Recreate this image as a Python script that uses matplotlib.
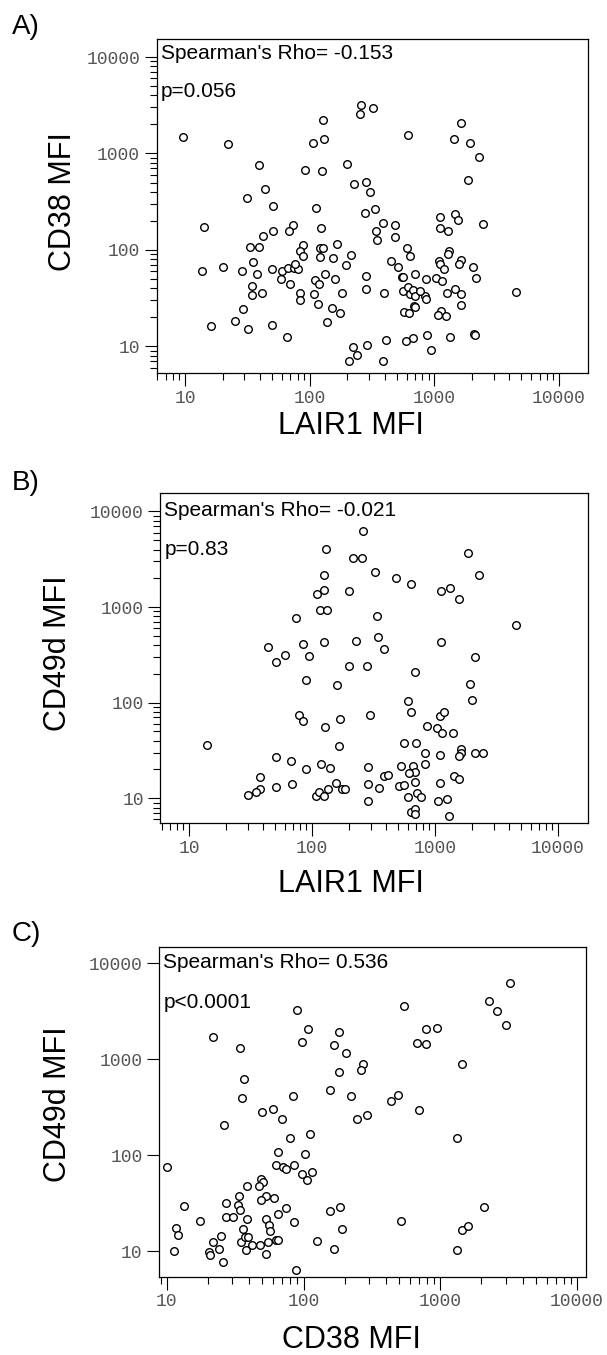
import numpy as np
import matplotlib
matplotlib.use('Agg')
import matplotlib.pyplot as plt
from matplotlib.ticker import LogLocator, FuncFormatter, NullFormatter, NullLocator

W, H = 607, 1355

# panel A: LAIR1 vs CD38
a_lair1 = [9.7, 22, 260, 255, 325, 127, 107, 131, 620, 1650, 1430, 1930, 2290, 1850,
           39, 198, 92, 125, 227, 281, 304, 43.6, 31.5, 50.5, 113, 277, 336, 14.1,
           73, 68, 50.5, 42, 123, 338, 387, 480, 346, 483, 1120, 1120, 1470, 1560,
           1285, 2460, 33, 39, 88, 166, 122, 127, 83, 88, 213, 155, 122, 603, 634,
           1320, 1285, 447, 511, 1090, 1120, 1190, 1650, 1580, 2030, 2160, 1030,
           1146, 1276, 1462, 1626, 1640, 1130, 1066, 1250, 2070, 2140, 1330, 873,
           938, 681, 594, 410, 291, 224, 240, 205, 385, 66, 50, 32, 25, 16.1, 29,
           13.7, 20.3, 28.6, 35, 37.6, 34.7, 34.2, 41.4, 50, 59, 60, 67, 74.5, 80,
           77, 70, 83, 83, 108, 111, 118, 133, 117, 161, 183, 151, 174, 138, 281,
           281, 393, 195, 550, 565, 697, 861, 843, 855, 557, 611, 634, 676, 705,
           768, 574, 630, 691, 700, 4550]
a_cd38 = [1500, 1260, 3150, 2580, 2960, 2220, 1290, 1420, 1560, 2060, 1420, 1290, 925,
          533, 757, 774, 680, 663, 486, 506, 397, 430, 346, 287, 270, 244, 264, 172,
          182, 158, 157, 141, 167, 158, 189, 182, 127, 135, 222, 169, 237, 204, 157,
          185, 107, 107, 112, 114, 106, 106, 98, 86, 89, 82, 84, 104, 86, 98, 90,
          77, 66, 76, 72, 64, 78, 71, 66, 51, 51, 48, 36, 39, 35, 27, 23.5, 21,
          20.8, 13.6, 13.2, 12.4, 13, 9.2, 12.3, 11.4, 11.7, 10.3, 9.9, 8.2, 7.0,
          7.1, 12.5, 16.5, 15.2, 18.3, 16.3, 24.4, 61, 66, 61, 75, 57, 42, 34, 36,
          64, 50, 61, 65, 65, 63, 71, 44, 36, 30, 35, 49, 44, 56, 27.6, 50, 36, 25,
          22.4, 17.9, 54, 39.6, 36, 70, 53, 53, 57, 50, 33.4, 30.9, 38, 41, 35,
          38.4, 33.4, 37.8, 22.9, 22, 26.3, 25.5, 37]

# panel B: LAIR1 vs CD49d
b_lair1 = [262, 129, 216, 256, 327, 484, 634, 126, 126, 110, 201, 1850, 2270, 1120,
           1320, 1560, 115, 133, 338, 74, 4550, 44, 51, 60, 85, 94, 125, 227, 341,
           388, 198, 279, 1120, 2130, 686, 90, 159, 1920, 2000, 607, 634, 78, 85,
           168, 128, 298, 1090, 1190, 855, 1030, 1130, 1410, 14, 165, 557, 695, 824,
           1105, 1636, 1614, 1580, 2100, 2440, 51, 67.5, 118, 140, 89.5, 283, 530,
           656, 686, 611, 829, 388, 416, 1420, 1580, 1100, 38, 38, 35, 30, 50.8, 69,
           108, 114, 126, 135, 156, 176, 186, 283, 351, 287, 511, 557, 686, 599,
           715, 762, 1060, 1240, 1300, 643, 681, 686]
b_cd49d = [6280, 4060, 3300, 3300, 2330, 2000, 1750, 2140, 1520, 1375, 1470, 3650,
           2190, 1460, 1590, 1210, 937, 922, 811, 767, 643, 380, 267, 314, 409, 306,
           430, 443, 489, 362, 244, 244, 430, 297, 211, 172, 153, 156, 107, 105, 80,
           75, 64, 68, 56, 75, 73, 79, 57, 54, 48, 48, 36, 35, 37.5, 38, 30, 28.5,
           32.7, 30, 27.5, 29.6, 29.4, 26.7, 24.6, 23, 20.9, 20.2, 21, 21.7, 21.7,
           18.9, 18.5, 22.6, 17.1, 17.6, 16.9, 15.9, 14.5, 16.6, 12.5, 11.5, 10.8,
           13, 14.1, 10.5, 11.7, 10.6, 12.6, 14.3, 12.5, 12.5, 14, 12.7, 9.4, 13.3,
           13.9, 14.9, 10.2, 11.3, 10.4, 9.3, 9.8, 6.5, 7.2, 7.7, 6.9]

# panel C: CD38 vs CD49d
c_cd38 = [3210, 2280, 2620, 3010, 540, 89, 107, 98, 182, 168, 205, 272, 265, 182,
          21.8, 34.4, 36.7, 35.3, 83, 157, 223, 50, 60, 69, 26.3, 245, 290, 436, 493,
          695, 674, 792, 782, 949, 1440, 1325, 80, 112, 103, 65, 63, 71, 74, 85, 97,
          115, 106, 10.1, 49, 50.2, 47, 38.7, 33.7, 52.7, 49, 61, 27, 13.3, 33.3,
          34.4, 74, 65, 156, 185, 27, 30.7, 17.5, 38.3, 52.7, 56, 85, 57, 36, 11.6,
          12.1, 24.8, 21.8, 24.2, 20.4, 20.7, 11.2, 25.8, 35.1, 37.5, 39.3, 41.7,
          37.8, 48.3, 54.8, 53.4, 63, 65, 88.7, 126, 167, 190, 516, 1325, 1448, 1590,
          2080]
c_cd49d = [6240, 4010, 3180, 2270, 3610, 3240, 2080, 1530, 1910, 1400, 1170, 900, 776,
           740, 1710, 1320, 621, 392, 414, 474, 414, 285, 304, 236, 204, 238, 259,
           365, 428, 299, 1460, 1426, 2050, 2130, 881, 152, 150, 168, 103, 107, 78,
           74.5, 72, 78, 64, 67, 54.6, 74.5, 56.5, 53, 48, 47.6, 37.8, 37.2, 34.3,
           36, 31.9, 29.4, 29.9, 27.1, 28.2, 24.2, 26.4, 28.9, 22.6, 22.5, 20.7,
           21.4, 21.4, 18.9, 20, 16.3, 16.9, 17.4, 14.8, 14.2, 12.3, 10.6, 9.7, 9.2,
           10.1, 7.6, 12.3, 14, 14, 11.5, 10.2, 11.6, 12.5, 9.4, 13, 13, 6.4, 12.7,
           10.5, 17, 20.7, 10.3, 16.6, 18.2, 28.9]

panel_tags = ['A)', 'B)', 'C)']
x_titles = ['LAIR1 MFI', 'LAIR1 MFI', 'CD38 MFI']
y_titles = ['CD38 MFI', 'CD49d MFI', 'CD49d MFI']
rho_texts = ["Spearman's Rho= -0.153", "Spearman's Rho= -0.021", "Spearman's Rho= 0.536"]
p_texts = ['p=0.056', 'p=0.83', 'p<0.0001']

SANS = 'Liberation Sans'


def fx(x):
    return x / W


def fy(y):
    return 1 - y / H


def make_panel(fig, box, x, y, xlim, ylim, yminor=True):
    left, top, right, bottom = box
    ax = fig.add_axes([fx(left), fy(bottom), (right - left) / W, (bottom - top) / H])
    ax.scatter(x, y, s=30, facecolors='white', edgecolors='black',
               linewidths=1.0, zorder=3, clip_on=False)
    ax.set_xscale('log')
    ax.set_yscale('log')
    ax.set_xlim(xlim)
    ax.set_ylim(ylim)
    fmt = FuncFormatter(lambda v, pos: '%d' % round(v))
    for axis in (ax.xaxis, ax.yaxis):
        axis.set_major_locator(LogLocator(base=10))
        axis.set_major_formatter(fmt)
        axis.set_minor_locator(LogLocator(base=10, subs=np.arange(2, 10)))
        axis.set_minor_formatter(NullFormatter())
    if not yminor:
        ax.yaxis.set_minor_locator(NullLocator())
    ax.tick_params(which='major', direction='out', length=9, width=0.8,
                   labelsize=13, labelcolor='#555555', pad=3,
                   labelfontfamily='Liberation Mono')
    ax.tick_params(which='minor', direction='out', length=5, width=0.8)
    for sp in ax.spines.values():
        sp.set_linewidth(0.9)
    return ax


fig = plt.figure(figsize=(W / 100, H / 100), dpi=100)

boxes = [(156.7, 39, 588.3, 373.3), (160.5, 493.3, 587.6, 823.3), (159.3, 946.7, 585.7, 1276.7)]
xlims = [(5.93, 17200), (5.86, 17400), (8.8, 11580)]
ylims = [(5.27, 15370), (5.47, 15500), (5.4, 14900)]
xs = [a_lair1, b_lair1, c_cd38]
ys = [a_cd38, b_cd49d, c_cd49d]

tag_y = [14, 470, 921]
rho_base = [59, 516, 968]
p_base = [97, 555, 1008]
xlab_base = [434, 892, 1348]
ylab_c = [(63, 202), (58, 653), (58, 1104)]

for i in range(3):
    make_panel(fig, boxes[i], xs[i], ys[i], xlims[i], ylims[i], yminor=(i != 2))
    fig.text(fx(12), fy(tag_y[i]), panel_tags[i], fontsize=20, family=SANS,
             ha='left', va='top')
    fig.text(fx(boxes[i][0] + 4), fy(rho_base[i]), rho_texts[i], fontsize=15,
             family=SANS, ha='left', va='baseline')
    fig.text(fx(boxes[i][0] + 4), fy(p_base[i]), p_texts[i], fontsize=15,
             family=SANS, ha='left', va='baseline')
    fig.text(fx(351), fy(xlab_base[i]), x_titles[i], fontsize=22, family=SANS,
             ha='center', va='baseline')
    fig.text(fx(ylab_c[i][0]), fy(ylab_c[i][1]), y_titles[i], fontsize=22,
             family=SANS, ha='center', va='center', rotation=90)

fig.savefig('out.png', dpi=100)
